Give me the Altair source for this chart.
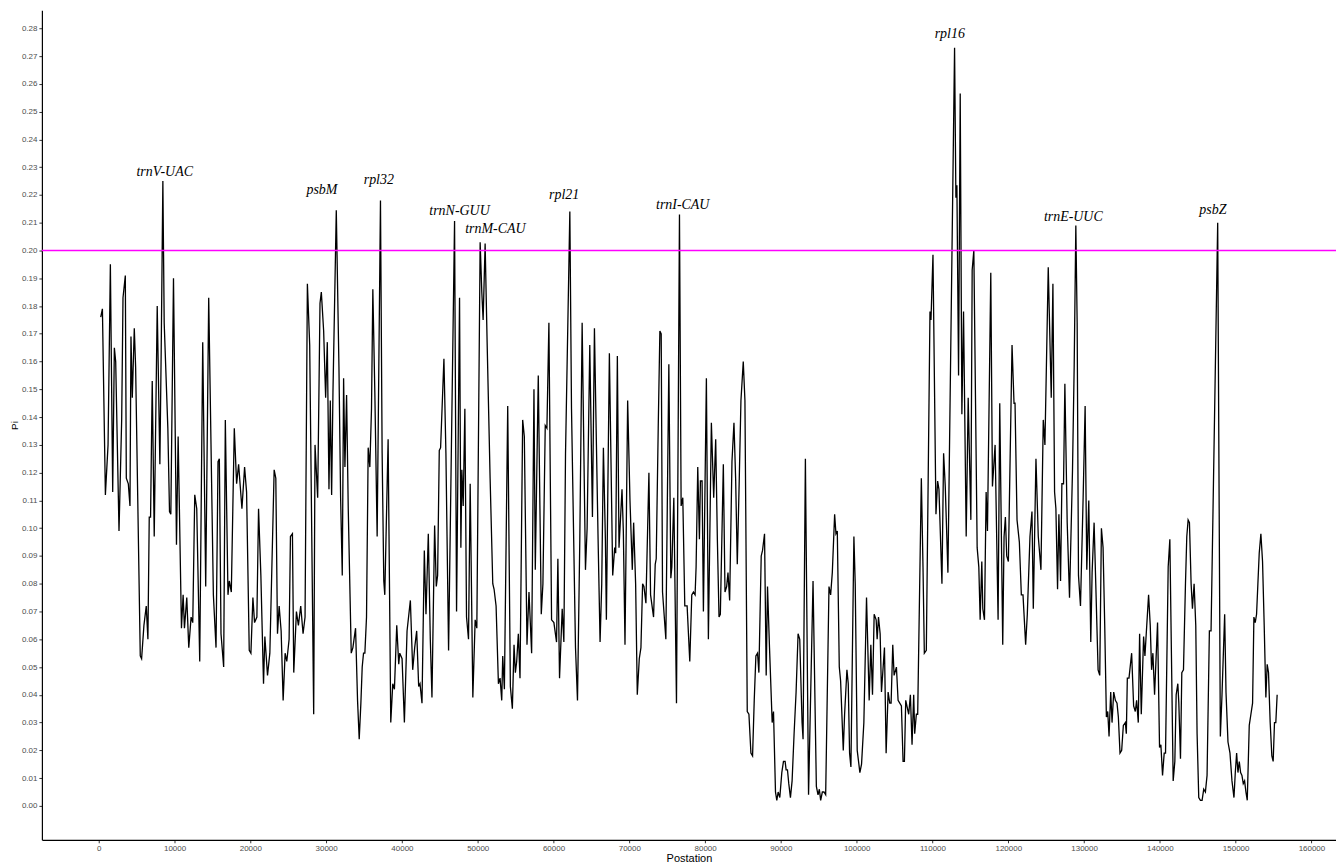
import altair as alt
import pandas as pd

# ---- sliding-window nucleotide diversity ----
position = [
    263, 483, 877, 1228, 1534, 1841, 2060, 2236, 2674, 3025, 3200, 3507, 3638, 3901, 4120, 4252,
    4427, 4690, 4866, 5479, 5654, 5961, 6268, 6487, 6663, 6838, 7057, 7320, 7715, 8065, 8240, 8460,
    8635, 9117, 9336, 9512, 9862, 10256, 10476, 10914, 11133, 11308, 11615, 11878, 12185, 12404, 12667, 12930,
    13324, 13719, 14113, 14508,
    15123, 15474, 15737, 15912, 16131, 16482, 16701, 17051, 17227, 17490, 17884, 18191, 18454, 18892, 19243, 19506,
    19857, 20076, 20339, 20558, 20865, 21084, 21391, 21741, 21917, 22267, 22574, 23144, 23363, 23582, 23802, 24065,
    24328, 24590, 24810, 25116, 25292, 25555, 25730, 26081, 26343, 26650, 26957, 27220, 27527, 27833, 28359, 28535,
    28885, 29192, 29367, 29674, 29937, 30156, 30375, 30550, 30726,
    30903, 31341, 31692, 31911, 32130, 32306, 32481, 32700, 32919, 33314, 33533, 33884, 34146, 34366, 34585, 34760,
    34935, 35111, 35330, 35549, 35768, 35987, 36163, 36426, 36733, 36952, 37171, 37390, 37609, 37740, 38179, 38529,
    38792, 39011, 39318, 39581, 39713, 40020, 40326, 40677, 41115, 41422, 41685, 41948, 42211, 42386, 42649, 42956,
    43175, 43482, 43745, 43964, 44315, 44534, 44710, 44929, 45104, 45542, 45805, 46156,
    46946, 47209, 47603, 47779, 47910, 48086, 48305, 48524, 48787, 49006, 49357, 49663, 49883, 50321, 50540, 50715,
    50978, 51241, 51636, 51986, 52161, 52424, 52731, 52950, 53170, 53301, 53520, 53959, 54309, 54572, 54791, 54967,
    55142, 55361, 55580, 55931, 56150, 56501, 56764, 57114, 57421, 57596, 57991, 58385, 58604, 58911, 59130, 59393,
    59744, 60051, 60401, 60577, 60796, 61147, 61366, 61585, 62155,
    62375, 62901, 63164, 63471, 63778, 64216, 64435, 64786, 65137, 65400, 65663, 65882, 66145, 66364, 66583, 66846,
    66977, 67372, 67810, 68073, 68205, 68424, 68643, 69038, 69213, 69432, 69783, 70090, 70396, 70572, 70835, 71054,
    71317, 71536, 71755, 71930, 72193, 72588, 72807, 73201, 73420, 73552, 73815, 74034, 74209, 74384, 74823, 75217,
    75480, 75612, 75875, 76226, 76620, 76839, 77058, 77321, 77628, 77979,
    78243, 78462, 78681, 78813, 79032, 79251, 79383, 79602, 79777, 80171, 80434, 80829, 81136, 81399, 81618, 81837,
    82012, 82407, 82626, 82845, 83020, 83240, 83546, 83809, 84029, 84248, 84511, 84730, 85037, 85256, 85563, 85782,
    86045, 86264, 86483, 86702, 86921, 87097, 87404, 87579, 87842, 88061, 88236, 88499, 88850, 89025, 89288, 89463,
    89639, 89858, 90121, 90340, 90559, 90690, 90866, 91041, 91260, 91479, 91742, 92006, 92269, 92488, 92794, 92926,
    93233, 93650,
    94242, 94680, 94900, 95075, 95250, 95469, 95689, 95908, 96346, 96565, 96784, 97091, 97266, 97442, 97705, 97880,
    98231, 98406, 98713, 98888, 99063, 99239, 99633, 99808, 100071, 100422, 100641, 100948, 101299, 101649, 101868, 102088,
    102307, 102570, 102701, 102877, 103096, 103271, 103666, 103885, 104148, 104367, 104542, 104761, 104937, 105243, 105463, 105901,
    106120, 106296, 106471, 106866, 107085, 107304, 107523, 107655, 107874, 108049, 108531, 108750, 108926, 109189, 109671, 109802,
    110066, 110460, 110680, 110855, 111249, 111469, 111688, 112038, 112915, 113090, 113222, 113441, 113660, 113879, 114098, 114449,
    114712, 115063, 115238, 115457, 115895, 116115, 116290, 116509, 116641, 116860, 117079, 117254, 117693, 117912, 118263, 118657,
    118876, 119270, 119446, 119621, 119796, 120015, 120497, 120760, 120892, 121155, 121462, 121725, 121944, 122294, 122513, 122864,
    123127, 123303, 123653, 123960, 124311, 124617, 124836, 125275,
    125671, 125890, 126109, 126284, 126503, 126679, 126898, 127073, 127292, 127468, 127775, 128081, 128476, 128695, 128914, 129089,
    129265, 129528, 129878, 130141, 130360, 130623, 130886, 131062, 131325, 131544, 131851, 132070, 132289, 132508, 132727, 132946,
    133122, 133297, 133516, 133692, 133911, 134130, 134349, 134524, 134743, 134963, 135182, 135445, 135576, 135708, 135927, 136278,
    136540, 136760, 136935, 137154, 137329, 137549, 137855, 138031, 138162, 138513, 138732, 138907, 139083, 139302, 139696, 139959,
    140135, 140354, 140573, 140748, 141099, 141318,
    141757, 141977, 142152, 142371, 142503, 142722, 142897, 143116, 143379, 143554, 143730, 143905, 144124, 144299, 144519, 144738,
    144913, 145132, 145352, 145571, 145790, 146009, 146228, 146535, 146754, 147631, 147981, 148200, 148551, 148726, 148989, 149252,
    149515, 149778, 149953, 150129, 150304, 150479, 150655, 150830, 151005, 151181, 151356, 151532, 151795, 152014, 152233, 152408,
    152584, 152759, 152934, 153110, 153329, 153548, 153767, 153986, 154161, 154336, 154556, 154775, 154950, 155125, 155300, 155476,
]

pi_values = [
    0.176, 0.179, 0.112, 0.130, 0.195, 0.113, 0.165, 0.160, 0.099, 0.139, 0.183, 0.191, 0.118, 0.116, 0.108, 0.169,
    0.147, 0.172, 0.158, 0.054, 0.053, 0.065, 0.072, 0.060, 0.104, 0.104, 0.153, 0.097, 0.180, 0.123, 0.164, 0.225,
    0.174, 0.136, 0.106, 0.105, 0.190, 0.094, 0.133, 0.064, 0.076, 0.064, 0.075, 0.057, 0.068, 0.066, 0.112, 0.107,
    0.052, 0.167, 0.079, 0.183,
    0.076, 0.057, 0.124, 0.125, 0.062, 0.050, 0.139, 0.076, 0.081, 0.077, 0.136, 0.116, 0.123, 0.107, 0.122, 0.113,
    0.056, 0.055, 0.075, 0.066, 0.068, 0.107, 0.083, 0.044, 0.061, 0.047, 0.055, 0.121, 0.118, 0.062, 0.072, 0.063,
    0.038, 0.055, 0.052, 0.060, 0.097, 0.098, 0.048, 0.070, 0.065, 0.072, 0.062, 0.068, 0.188, 0.166, 0.033, 0.130,
    0.111, 0.181, 0.185, 0.171, 0.147, 0.167, 0.114, 0.146, 0.112,
    0.149, 0.2145, 0.158, 0.111, 0.083, 0.154, 0.122, 0.148, 0.107, 0.055, 0.057, 0.064, 0.038, 0.024, 0.037, 0.050,
    0.055, 0.055, 0.068, 0.129, 0.122, 0.143, 0.186, 0.149, 0.097, 0.158, 0.218, 0.127, 0.081, 0.076, 0.132, 0.030,
    0.044, 0.042, 0.065, 0.051, 0.055, 0.053, 0.030, 0.063, 0.074, 0.049, 0.057, 0.063, 0.043, 0.044, 0.037, 0.092,
    0.069, 0.098, 0.060, 0.039, 0.101, 0.079, 0.083, 0.128, 0.129, 0.161, 0.127, 0.056,
    0.2106, 0.070, 0.183, 0.093, 0.121, 0.108, 0.143, 0.068, 0.060, 0.116, 0.039, 0.067, 0.064, 0.203, 0.185, 0.175,
    0.2025, 0.167, 0.118, 0.080, 0.078, 0.072, 0.044, 0.046, 0.038, 0.054, 0.042, 0.144, 0.043, 0.035, 0.058, 0.048,
    0.052, 0.062, 0.046, 0.139, 0.133, 0.058, 0.077, 0.055, 0.150, 0.085, 0.155, 0.069, 0.080, 0.137, 0.136, 0.174,
    0.067, 0.066, 0.059, 0.089, 0.046, 0.071, 0.059, 0.127, 0.214,
    0.143, 0.057, 0.038, 0.096, 0.174, 0.085, 0.100, 0.166, 0.104, 0.172, 0.130, 0.096, 0.059, 0.080, 0.129, 0.096,
    0.067, 0.163, 0.083, 0.093, 0.091, 0.162, 0.093, 0.114, 0.099, 0.058, 0.146, 0.110, 0.085, 0.102, 0.080, 0.040,
    0.053, 0.057, 0.080, 0.079, 0.073, 0.120, 0.076, 0.068, 0.087, 0.089, 0.136, 0.171, 0.170, 0.077, 0.060, 0.159,
    0.082, 0.086, 0.111, 0.037, 0.213, 0.108, 0.111, 0.072, 0.072, 0.052,
    0.076, 0.077, 0.076, 0.086, 0.122, 0.096, 0.117, 0.117, 0.070, 0.154, 0.060, 0.138, 0.111, 0.132, 0.096, 0.068,
    0.069, 0.123, 0.077, 0.079, 0.084, 0.074, 0.124, 0.138, 0.118, 0.087, 0.118, 0.146, 0.160, 0.146, 0.034, 0.033,
    0.019, 0.018, 0.038, 0.054, 0.055, 0.048, 0.090, 0.092, 0.098, 0.047, 0.079, 0.057, 0.030, 0.034, 0.005, 0.002,
    0.005, 0.003, 0.012, 0.016, 0.016, 0.013, 0.013, 0.008, 0.003, 0.009, 0.026, 0.041, 0.062, 0.060, 0.030, 0.024,
    0.125, 0.004,
    0.081, 0.007, 0.004, 0.006, 0.002, 0.005, 0.005, 0.004, 0.079, 0.076, 0.084, 0.105, 0.098, 0.099, 0.050, 0.045,
    0.020, 0.033, 0.049, 0.044, 0.019, 0.014, 0.097, 0.080, 0.020, 0.012, 0.015, 0.030, 0.075, 0.038, 0.058, 0.040,
    0.069, 0.067, 0.060, 0.068, 0.062, 0.041, 0.057, 0.019, 0.041, 0.037, 0.037, 0.058, 0.047, 0.050, 0.038, 0.036,
    0.016, 0.016, 0.038, 0.033, 0.040, 0.022, 0.040, 0.026, 0.033, 0.033, 0.118, 0.086, 0.055, 0.056, 0.178, 0.175,
    0.1985, 0.105, 0.117, 0.114, 0.080, 0.127, 0.115, 0.084, 0.273, 0.219, 0.2235, 0.155, 0.2565, 0.141, 0.178, 0.097,
    0.147, 0.103, 0.193, 0.200, 0.093, 0.086, 0.067, 0.088, 0.071, 0.067, 0.113, 0.099, 0.192, 0.115, 0.130, 0.067,
    0.145, 0.058, 0.097, 0.104, 0.090, 0.088, 0.166, 0.145, 0.145, 0.103, 0.095, 0.076, 0.076, 0.058, 0.069, 0.097,
    0.106, 0.071, 0.125, 0.097, 0.085, 0.139, 0.130, 0.194,
    0.147, 0.188, 0.113, 0.107, 0.078, 0.105, 0.081, 0.116, 0.116, 0.152, 0.102, 0.075, 0.121, 0.158, 0.209, 0.174,
    0.083, 0.072, 0.111, 0.144, 0.085, 0.110, 0.059, 0.084, 0.102, 0.080, 0.049, 0.047, 0.100, 0.093, 0.065, 0.032,
    0.034, 0.025, 0.041, 0.030, 0.041, 0.038, 0.037, 0.032, 0.019, 0.020, 0.029, 0.030, 0.026, 0.046, 0.046, 0.055,
    0.036, 0.034, 0.038, 0.030, 0.062, 0.033, 0.061, 0.054, 0.060, 0.076, 0.065, 0.049, 0.055, 0.040, 0.066, 0.021,
    0.022, 0.011, 0.019, 0.019, 0.086, 0.096,
    0.009, 0.016, 0.040, 0.044, 0.037, 0.017, 0.048, 0.049, 0.080, 0.097, 0.103, 0.102, 0.080, 0.071, 0.080, 0.065,
    0.026, 0.003, 0.002, 0.002, 0.006, 0.005, 0.011, 0.063, 0.063, 0.210, 0.025, 0.040, 0.069, 0.041, 0.023, 0.019,
    0.009, 0.003, 0.012, 0.019, 0.012, 0.016, 0.012, 0.011, 0.008, 0.009, 0.005, 0.002, 0.029, 0.033, 0.037, 0.068,
    0.066, 0.069, 0.080, 0.091, 0.098, 0.088, 0.065, 0.039, 0.051, 0.048, 0.030, 0.018, 0.016, 0.030, 0.030, 0.040,
]

# ---- gene labels on the peaks ----
genes = ["trnV-UAC", "psbM", "rpl32", "trnN-GUU", "trnM-CAU", "rpl21", "trnI-CAU", "rpl16", "trnE-UUC", "psbZ"]
gene_pos = [8700, 29450, 36950, 47600, 52330, 61400, 77050, 112280, 128580, 147000]
gene_pi = [0.2283, 0.2218, 0.2253, 0.2143, 0.2078, 0.2200, 0.2163, 0.2781, 0.2121, 0.2146]

threshold = [0.20]
x_ticks = list(range(0, 160001, 10000))
y_ticks = [i / 100 for i in range(0, 29)]

df = pd.DataFrame({"Postation": position, "Pi": pi_values})
labels = pd.DataFrame({"gene": genes, "pos": gene_pos, "pi": gene_pi})
thr = pd.DataFrame({"t": threshold})

xscale = alt.Scale(domain=[-7500, 163240], nice=False, zero=False)
yscale = alt.Scale(domain=[-0.0122, 0.2865], nice=False, zero=False)

xaxis = alt.Axis(values=x_ticks, tickCount=40, format="d", title="Postation", grid=False,
                 labelFlush=False, labelOverlap=False, titlePadding=0)
yaxis = alt.Axis(values=y_ticks, tickCount=40, format=".2f", title="Pi", grid=False,
                 labelFlush=False, labelOverlap=False, titlePadding=2, titleFontSize=10)

line = alt.Chart(df).mark_line(color="black", strokeWidth=1.3).encode(
    x=alt.X("Postation:Q", scale=xscale, axis=xaxis),
    y=alt.Y("Pi:Q", scale=yscale, axis=yaxis),
)

rule = alt.Chart(thr).mark_rule(color="#ff00ff", strokeWidth=1.3).encode(
    y=alt.Y("t:Q", scale=yscale),
)

text = alt.Chart(labels).mark_text(
    font="Liberation Serif", fontStyle="italic", fontSize=14, color="black",
    baseline="middle", align="center",
).encode(
    x=alt.X("pos:Q", scale=xscale),
    y=alt.Y("pi:Q", scale=yscale),
    text="gene:N",
)

chart = alt.layer(line, rule, text).properties(
    width=1298, height=832,
    padding={"left": 34, "top": 1, "right": 0, "bottom": 22},
    autosize=alt.AutoSizeParams(type="none"),
    background="white",
).configure_view(stroke=None).configure_axis(
    domainColor="black", domainWidth=1.2,
    tickColor="#333333", tickSize=3, tickWidth=1,
    labelColor="#4d4d4d", labelFont="Liberation Sans", labelFontSize=8, labelPadding=2,
    titleFont="Liberation Sans", titleFontSize=11, titleFontWeight="normal", titleColor="black",
)

chart.save("out.html", embed_options={"renderer": "svg", "actions": False})
